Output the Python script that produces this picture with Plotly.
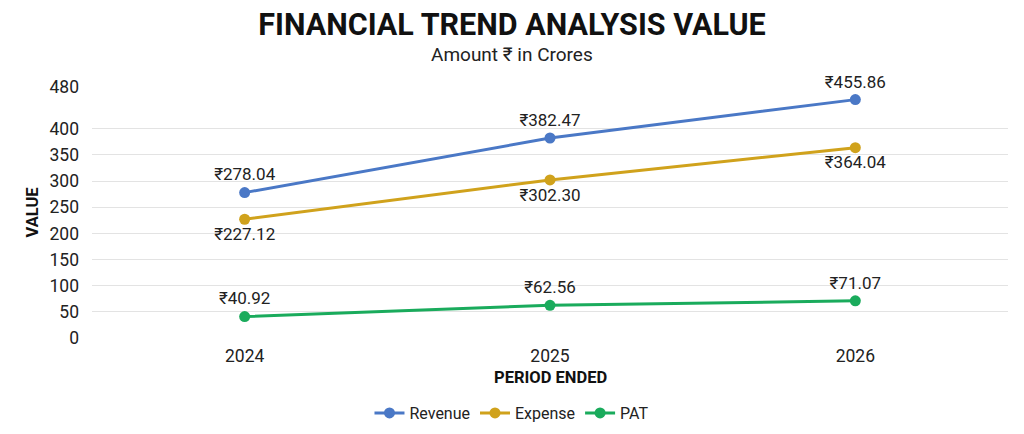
import plotly.graph_objects as go

years = ['2024', '2025', '2026']
revenue = [278.04, 382.47, 455.86]
expense = [227.12, 302.30, 364.04]
pat = [40.92, 62.56, 71.07]
y_ticks = [0, 50, 100, 150, 200, 250, 300, 350, 400, 480]

font_name = 'Roboto'
page_mid = 0.4585  # page centre in plot-area paper coords

series = [
    ('Revenue', revenue, '#4a78c6', 'top center'),
    ('Expense', expense, '#d0a21c', 'bottom center'),
    ('PAT', pat, '#1aab5c', 'top center'),
]

traces = []
for name, values, color, pos in series:
    trace = go.Scatter(
        x=years,
        y=values,
        name=name,
        mode='lines+markers+text',
        line=dict(color=color, width=3),
        marker=dict(color=color, size=11),
        texttemplate='₹%{y:.2f}',
        textposition=pos,
        textfont=dict(family=font_name, size=17, color='#222222'),
        cliponaxis=False
    )
    traces.append(trace)

layout = go.Layout(
    width=1024,
    height=434,
    paper_bgcolor='white',
    plot_bgcolor='white',
    font=dict(family=font_name, color='#222222'),
    margin=dict(l=92, r=16, t=87, b=96, autoexpand=False),
    title=dict(
        text='<b>FINANCIAL TREND ANALYSIS VALUE</b>',
        x=0.5,
        xanchor='center',
        y=0.945,
        yanchor='middle',
        font=dict(family=font_name, size=30.5, color='#111111')
    ),
    xaxis=dict(
        type='category',
        range=[-0.5, 2.5],
        automargin=False,
        showgrid=False,
        showline=False,
        ticks='',
        ticklabelstandoff=5,
        tickfont=dict(size=17.5)
    ),
    yaxis=dict(
        range=[0, 480],
        tickvals=y_ticks,
        automargin=False,
        gridcolor='#e3e3e3',
        gridwidth=1,
        zeroline=False,
        showline=False,
        ticks='',
        ticklabelstandoff=12,
        tickfont=dict(size=17.5)
    ),
    legend=dict(
        orientation='h',
        x=page_mid,
        xanchor='center',
        y=-0.299,
        yanchor='middle',
        font=dict(size=16)
    ),
    annotations=[
        dict(
            text='Amount ₹ in Crores',
            xref='paper', yref='paper',
            x=page_mid, y=1.1275,
            xanchor='center', yanchor='middle',
            showarrow=False,
            font=dict(family=font_name, size=19, color='#222222')
        ),
        dict(
            text='<b>PERIOD ENDED</b>',
            xref='paper', yref='paper',
            x=0.5, y=-0.159,
            xanchor='center', yanchor='middle',
            showarrow=False,
            font=dict(family=font_name, size=16.5, color='#111111')
        ),
        dict(
            text='<b>VALUE</b>',
            xref='paper', yref='paper',
            x=-0.0655, y=0.5,
            xanchor='center', yanchor='middle',
            textangle=-90,
            showarrow=False,
            font=dict(family=font_name, size=16.5, color='#111111')
        )
    ]
)

fig = go.Figure(data=traces, layout=layout)
# the page body has a default 8px margin; remove it so the figure sits at 0,0
fig.write_html('out.html', config={'displayModeBar': False},
               post_script="document.body.style.margin='0';")
